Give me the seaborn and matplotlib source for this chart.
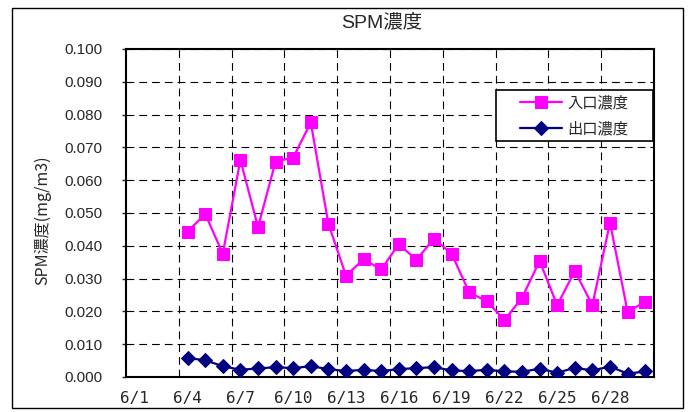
import matplotlib
matplotlib.use('Agg')
import matplotlib.pyplot as plt
import seaborn as sns
import numpy as np
from matplotlib.patches import Rectangle
from matplotlib.ticker import FormatStrFormatter

# day of June for each measurement
days = list(range(4, 31))

inlet = [0.0443, 0.0497, 0.0376, 0.0662, 0.0457, 0.0657, 0.0669, 0.0776, 0.0467, 0.0309,
         0.0359, 0.0328, 0.0405, 0.0357, 0.0422, 0.0376, 0.0258, 0.0231, 0.0174, 0.0241,
         0.0354, 0.0219, 0.0323, 0.0219, 0.0471, 0.0199, 0.0229]

outlet = [0.0058, 0.0051, 0.0033, 0.0022, 0.0026, 0.0030, 0.0027, 0.0033, 0.0024, 0.0018,
          0.0022, 0.0018, 0.0024, 0.0027, 0.0030, 0.0020, 0.0018, 0.0022, 0.0017, 0.0016,
          0.0025, 0.0013, 0.0028, 0.0020, 0.0032, 0.0010, 0.0017]

tick_days = [1, 4, 7, 10, 13, 16, 19, 22, 25, 28]
tick_labels = ["6/1", "6/4", "6/7", "6/10", "6/13", "6/16", "6/19", "6/22", "6/25", "6/28"]

sns.set_style('white')
plt.rcParams['font.family'] = ['Liberation Sans', 'Noto Sans CJK JP', 'DejaVu Sans']

W, H = 690, 412
fig = plt.figure(figsize=(W / 100, H / 100), dpi=100)
ax = fig.add_axes([126 / W, 1 - 377 / H, (654 - 126) / W, (377 - 49) / H])

sns.lineplot(x=days, y=inlet, ax=ax, color='#FF00FF', marker='s', markersize=8.5,
             markeredgecolor='#FF00FF', linewidth=1.6, label='入口濃度', zorder=3)
sns.lineplot(x=days, y=outlet, ax=ax, color='#000080', marker='D', markersize=7,
             markeredgecolor='#000080', linewidth=1.6, label='出口濃度', zorder=3)

ax.set_xlim(0.5, 30.5)
ax.set_ylim(0, 0.1)
ax.set_yticks(np.arange(0, 0.1001, 0.01))
ax.yaxis.set_major_formatter(FormatStrFormatter('%.3f'))
ax.tick_params(axis='y', labelsize=11, direction='out', length=3, width=1, pad=14, left=True)

ax.set_xticks(tick_days)
ax.set_xticklabels(tick_labels, family='DejaVu Sans Mono', fontsize=11.5)
ax.set_xticks(np.arange(3.5, 30, 3), minor=True)
ax.tick_params(axis='x', which='both', length=0, pad=10)

dash = (0, (7, 4.5))
ax.grid(which='major', axis='y', color='black', linestyle=dash, linewidth=0.8)
ax.grid(which='minor', axis='x', color='black', linestyle=dash, linewidth=0.8)
ax.grid(which='major', axis='x', visible=False)
ax.set_axisbelow(True)
ax.set_xlabel('')
ax.set_ylabel('')

for s in ax.spines.values():
    s.set_color('black')
    s.set_linewidth(1.5)

# legend box drawn separately (Excel style padding)
ax.add_patch(Rectangle((496 / W, 1 - 141 / H), (653 - 496) / W, (141 - 90) / H,
                       transform=fig.transFigure, facecolor='white', edgecolor='black',
                       lw=1.2, zorder=4, clip_on=False))
leg = ax.legend(loc='center left', bbox_to_anchor=(520 / W, 1 - 116 / H),
                bbox_transform=fig.transFigure, borderaxespad=0, borderpad=0,
                frameon=False, prop={'family': ['Noto Sans CJK JP'], 'size': 11},
                handlelength=2.75, handletextpad=0.35, labelspacing=0.6)
leg.set_zorder(5)

fig.text(382 / W, 1 - 22.5 / H, 'SPM濃度', ha='center', va='center', fontsize=14,
         family=['Liberation Sans', 'Noto Sans CJK JP'])
fig.text(43 / W, 1 - 220 / H, 'SPM濃度(mg/m3)', ha='center', va='center', rotation=90,
         fontsize=11.5, family=['Noto Sans CJK JP'])

fig.add_artist(Rectangle((12 / W, 1 - 408 / H), (683 - 12) / W, (408 - 8) / H,
                         transform=fig.transFigure, fill=False, edgecolor='black', lw=1))

fig.savefig('out.png', dpi=100)
